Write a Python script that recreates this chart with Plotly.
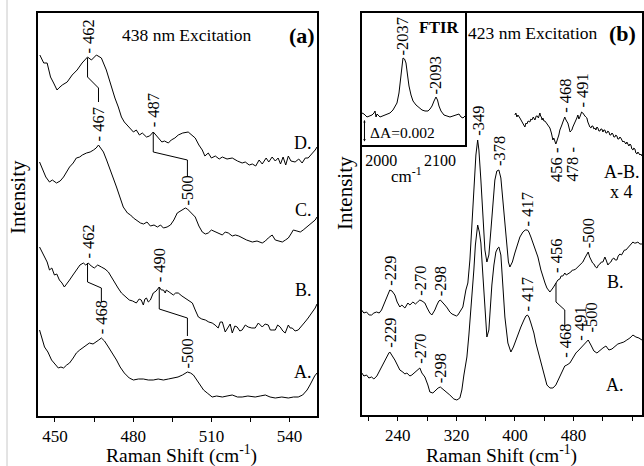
import plotly.graph_objects as go

FONT = "Liberation Serif, Times New Roman, DejaVu Serif, serif"

# ---------------- Panel (a): 438 nm excitation (Raman shift cm-1, intensity a.u.) ----------------
a_D = [(444.2,365),(445.7,357),(447.0,357),(448.3,343),(449.5,337),(450.8,330),(451.5,332),(452.8,335),
       (454.7,338),(456.6,345),(458.5,350),(460.4,357),(462.5,363),(464.0,360),(465.9,365),(467.8,362),
       (469.7,350),(471.6,333),(473.0,322),(474.3,313),(475.5,303),(476.6,298),(478.5,292),(480.1,288),
       (481.2,290),(482.4,285),(483.5,287),(485.1,283),(486.3,284),(487.7,288),(488.7,285),(489.7,282),
       (491.0,278),(492.0,279),(493.5,277),(494.6,280),(496.0,282),(497.3,285),(499.0,287),(501.1,288),
       (502.5,285),(503.8,282),(505.2,275),(506.5,270),(507.5,264),(508.8,267),(510.0,262),(511.5,264),
       (513.0,261),(514.2,263),(516.0,261),(518.0,262),(520.0,259),(521.8,257),(523.0,258),(524.5,255),
       (525.7,256),(527.0,254),(528.3,260),(529.5,256),(531.0,262),(532.0,258),(533.3,263),(534.5,259),
       (535.6,262),(536.5,256),(537.5,263),(538.5,255),(539.5,264),(540.5,259),(542.1,258),(543.5,261),
       (544.8,257),(546.0,262),(547.1,262),(548.5,266),(549.8,270),(550.5,273)]
a_C = [(444.1,258),(445.5,250),(446.5,243),(447.9,238),(449.0,240),(450.6,237),(452.0,239),(453.3,243),
       (454.5,248),(455.6,253),(457.0,257),(458.2,262),(459.5,263),(460.5,265),(462.1,267),(463.5,268),
       (464.8,270),(465.8,272),(466.7,275),(467.6,272),(468.6,268),(469.8,260),(470.9,253),(472.2,243),
       (473.6,233),(474.9,222),(476.2,213),(477.8,207),(479.0,205),(480.1,202),(481.5,199),(482.8,197),
       (484.0,196),(485.3,198),(486.6,194),(488.0,195),(489.3,193),(490.5,195),(491.6,192),(493.0,193),
       (494.3,195),(495.6,200),(496.9,207),(498.0,209),(498.9,210),(500.0,212),(500.8,211),(501.9,208),
       (503.0,206),(503.8,203),(505.2,194),(506.5,188),(507.7,186),(508.8,187),(510.0,190),(511.5,188),
       (512.8,187),(514.2,185),(515.3,188),(516.5,187),(518.0,184),(519.2,185),(520.5,184),(521.8,182),
       (523.5,180),(525.7,178),(527.5,179),(529.5,177),(530.7,179),(531.8,182),(533.3,185),(534.5,180),
       (535.8,179),(537.2,178),(538.4,180),(539.5,182),(540.5,186),(541.4,190),(542.8,189),(544.1,188),
       (545.2,190),(546.7,193),(548.2,196),(549.8,200),(550.5,203)]
a_B = [(444.1,173),(445.0,168),(446.0,162),(447.0,158),(447.9,150),(448.8,152),(449.8,145),(450.7,146),
       (451.7,140),(452.7,137),(453.6,133),(454.6,136),(455.6,140),(456.9,145),(458.2,150),(459.6,155),
       (460.9,157),(461.8,155),(462.8,157),(463.9,154),(465.1,152),(466.4,155),(467.8,153),(469.2,151),
       (470.5,148),(471.6,143),(472.8,137),(474.2,132),(475.5,127),(477.0,123),(478.5,120),(479.8,119),
       (481.2,117),(482.3,121),(483.1,120),(483.9,115),(484.5,121),(485.1,122),(485.8,118),(486.6,120),
       (487.7,127),(488.8,129),(490.0,133),(490.8,130),(491.6,130),(492.3,127),(492.7,130),(493.8,128),
       (495.4,125),(496.3,127),(497.3,127),(498.7,124),(500.0,122),(501.3,120),(502.7,117),(503.8,110),
       (505.0,103),(506.3,101),(507.7,100),(509.0,98),(510.3,97),(511.4,95),(512.6,92),(513.4,98),
       (514.2,98),(515.3,88),(516.5,93),(517.2,96),(518.0,87),(519.0,94),(519.9,93),(520.9,89),
       (521.8,90),(523.0,95),(524.1,93),(525.5,92),(526.8,92),(528.0,97),(529.5,93),(530.6,96),
       (531.8,95),(532.6,90),(533.3,90),(534.5,90),(535.4,95),(536.4,93),(537.4,89),(538.3,87),
       (539.5,95),(540.2,92),(541.0,92),(542.1,89),(543.3,90),(544.3,93),(545.2,95),(546.2,99),
       (547.1,102),(548.5,107),(549.8,112),(550.5,116)]
a_A = [(444.1,90),(445.0,82),(446.0,73),(447.3,68),(448.7,60),(450.0,56),(451.3,52),(452.3,53),
       (453.3,52),(454.5,55),(455.6,57),(457.0,62),(458.2,67),(459.5,70),(460.9,73),(462.0,75),
       (463.2,77),(464.6,76),(465.9,78),(466.8,80),(467.8,82),(469.0,79),(470.5,73),(472.0,67),
       (473.6,60),(475.0,53),(476.6,47),(478.5,42),(480.1,40),(482.0,41),(483.9,41),(485.8,40),
       (487.7,40),(489.6,41),(491.6,40),(493.5,41),(495.4,42),(497.2,43),(498.9,45),(500.0,47),
       (500.8,48),(502.0,47),(503.1,45),(504.4,40),(505.7,35),(507.0,30),(508.4,27),(510.3,23),
       (512.0,24),(514.2,23),(516.0,24),(518.0,25),(520.0,23),(521.8,23),(524.0,24),(526.8,23),
       (528.7,24),(530.7,25),(532.5,23),(534.5,22),(537.0,23),(539.5,22),(541.5,23),(543.3,23),
       (545.0,25),(546.7,30),(547.8,35),(548.7,40),(549.6,44),(550.5,47)]

# ---------------- Panel (b): 423 nm excitation ----------------
b_B = [(190.4,110),(193.6,107),(197.2,108),(200.8,105),(204.1,105),(207.2,107),(210.9,108),(214.5,107),
       (217.7,110),(221.0,116),(225.0,122),(228.0,128),(229.0,130),(232.0,129),(235.9,125),(239.0,118),
       (242.7,113),(245.4,115),(249.6,112),(253.7,117),(256.4,115),(260.5,118),(264.0,116),(267.0,118),
       (270.0,120),(273.0,119),(276.9,117),(280.0,112),(283.7,107),(286.4,105),(290.5,110),(293.3,115),
       (296.0,119),(298.0,120),(301.0,118),(304.2,115),(307.5,112),(311.0,108),(314.0,106),(316.5,105),
       (320.0,104),(322.0,105),(326.0,109),(328.8,113),(332.9,130),(335.6,137),(338.4,160),(341.1,195),
       (343.8,235),(346.6,265),(349.0,280),(350.7,270),(353.4,240),(356.1,200),(358.9,170),(361.6,158),
       (364.3,165),(367.1,190),(369.8,220),(372.5,240),(375.2,249),(378.0,250),(380.7,242),(383.4,220),
       (386.2,195),(388.9,170),(391.0,158),(393.0,153),(396.4,158),(399.8,167),(404.0,177),(406.7,183),
       (410.8,188),(414.0,190),(417.0,190),(419.0,188),(421.7,183),(425.8,175),(428.5,168),(431.3,163),
       (435.4,150),(438.1,143),(441.0,137),(443.6,132),(447.7,128),(451.8,132),(454.5,135),(456.0,137),
       (458.6,140),(461.3,141),(463.0,144),(465.4,144),(468.1,147),(470.0,145),(472.1,146),(474.5,148),
       (476.3,148),(478.5,150),(480.4,150),(483.0,151),(485.9,153),(488.0,155),(490.0,156),(492.7,158),
       (495.4,162),(498.2,166),(500.0,168),(502.0,163),(503.7,160),(506.0,157),(507.8,156),(510.0,153),
       (511.9,152),(514.0,155),(516.0,156),(518.0,158),(520.1,158),(522.8,163),(524.5,160),(526.9,155),
       (529.0,157),(531.0,158),(533.0,161),(535.1,162),(537.0,160),(539.2,160),(541.0,164),(543.3,166),
       (545.5,165),(547.4,168),(549.5,170),(551.5,170),(554.2,172),(556.0,174),(558.3,176),(561.1,178),
       (563.0,177),(565.2,177),(567.9,178),(570.5,176),(573.4,176)]
b_A = [(190.8,47),(193.6,44),(197.2,45),(200.4,42),(204.1,43),(207.2,41),(211.3,44),(215.4,50),
       (219.5,55),(222.2,60),(225.0,64),(227.7,67),(229.0,68),(232.0,65),(235.9,60),(240.0,54),
       (242.7,50),(246.8,48),(249.5,46),(252.3,47),(256.4,44),(259.1,45),(263.2,48),(267.3,51),
       (270.0,52),(272.8,47),(276.9,43),(281.0,35),(283.7,28),(287.8,27),(291.9,30),(295.0,32),
       (298.0,33),(301.5,31),(305.6,28),(311.0,25),(316.5,21),(320.6,20),(324.7,22),(327.4,30),
       (330.2,45),(334.3,63),(337.0,85),(341.1,120),(343.8,150),(345.9,175),(347.5,190),(349.0,195),
       (351.3,188),(353.4,177),(356.1,145),(358.9,110),(361.6,83),(364.3,90),(365.7,110),(368.4,135),
       (371.2,155),(373.9,168),(376.5,172),(378.0,173),(380.7,165),(382.8,140),(386.2,103),(390.3,77),
       (394.4,68),(397.8,73),(401.2,80),(405.3,87),(408.0,93),(412.2,100),(414.9,104),(417.0,105),
       (419.0,103),(421.7,97),(425.8,87),(428.5,77),(432.6,65),(435.4,57),(439.5,46),(443.6,35),
       (447.7,32),(451.8,32),(455.8,35),(459.9,42),(464.0,48),(468.0,54),(470.9,55),(475.0,57),
       (479.1,62),(483.2,67),(487.3,70),(491.0,73),(495.5,77),(500.0,80),(503.7,75),(507.8,69),
       (511.9,67),(516.0,70),(520.1,72),(524.2,74),(528.3,70),(532.4,71),(536.4,74),(540.5,76),
       (544.6,77),(548.7,78),(552.8,80),(557.0,82),(561.1,85),(565.2,83),(569.3,82),(573.4,80)]
b_AminusB = [(399.8,305),(401.2,307),(402.6,303),(404.0,305),(406.7,302),(408.0,300),(409.4,299),(411.0,296),
       (413.5,293),(415.0,297),(416.2,296),(418.0,299),(420.3,298),(421.7,301),(423.1,300),(425.0,303),
       (427.2,300),(429.0,304),(430.6,304),(432.0,302),(434.0,307),(435.0,304),(436.0,303),(437.0,300),
       (438.1,302),(439.5,299),(440.8,299),(442.9,297),(445.0,295),(446.5,294),(447.7,292),(449.7,287),
       (450.8,283),(451.8,280),(453.0,282),(454.5,277),(455.8,276),(456.8,278),(457.9,280),(459.0,283),
       (459.9,285),(461.3,290),(462.7,292),(464.0,295),(465.4,298),(466.5,301),(468.0,303),(469.0,301),
       (470.3,298),(471.2,298),(472.2,297),(473.2,293),(474.3,292),(475.3,288),(476.3,289),(477.7,290),
       (479.0,293),(480.4,295),(481.8,298),(483.2,300),(484.5,302),(485.9,305),(487.3,301),(488.6,303),
       (489.8,306),(491.0,308),(492.7,307),(494.0,305),(495.5,304),(496.8,303),(498.2,302),(499.5,298),
       (500.9,295),(502.3,293),(503.7,292),(505.0,294),(506.4,294),(507.8,291),(509.2,292),(510.5,290),
       (511.9,293),(513.2,292),(514.6,289),(516.0,289),(517.3,291),(518.7,291),(520.1,288),(521.4,290),
       (522.8,290),(524.2,287),(525.5,287),(526.9,289),(528.3,288),(529.6,285),(531.0,285),(532.4,287),
       (533.7,286),(535.1,283),(536.4,283),(537.8,285),(539.2,284),(540.5,281),(541.9,281),(543.3,283),
       (544.6,282),(546.0,279),(547.4,278),(548.7,279),(550.1,277),(551.5,276),(552.8,278),(554.2,275),
       (555.6,274),(557.0,276),(558.3,275),(559.7,271),(561.1,270),(562.4,272),(563.8,271),(565.2,267),
       (566.6,266),(567.9,268),(569.3,267),(570.7,265),(572.0,266),(573.4,264)]

# ---------------- Inset: FTIR (wavenumber cm-1, absorbance a.u.) ----------------
ftir = [(1967.4,307),(1970.8,306),(1975.9,303),(1979.3,304),(1984.4,305),(1987.8,307),(1989.5,309),
        (1991.2,303),(1992.9,306),(1998.0,303),(2003.1,304),(2006.5,305),(2011.5,306),(2014.9,307),
        (2020.0,310),(2023.4,313),(2026.8,317),(2030.2,327),(2032.8,340),(2035.3,354),(2037.0,362),
        (2039.6,361),(2042.1,357),(2044.7,345),(2047.2,334),(2050.6,325),(2054.0,319),(2059.1,315),
        (2064.2,312),(2069.3,310),(2074.4,309),(2079.5,309),(2082.9,311),(2086.3,314),(2089.7,319),
        (2093.0,323),(2095.6,320),(2098.1,314),(2101.5,309),(2106.6,305),(2111.7,304),(2116.8,303),
        (2121.9,304),(2127.0,305),(2132.1,306),(2135.5,303),(2138.9,302),(2142.3,304)]

# correlation (connector) lines between bands, in data units
a_links = [[(462.5,362),(462.5,343),(466.7,332),(466.7,318)],
           [(487.7,288),(487.7,268),(500.8,260),(500.8,243)],
           [(462.5,157),(462.5,138),(467.8,132),(467.8,118)],
           [(490.0,133),(490.0,111),(500.8,102),(500.8,84)]]
b_links = [[(456.0,137),(456.0,118),(468.0,110),(468.0,93)]]

# peak labels: (text, x, y, anchor)
a_peaks = [("- 462",462.5,364,"bottom"),("- 467",466.7,277,"bottom"),("- 487",487.7,291,"bottom"),
           ("-500",500.8,213,"bottom"),("- 462",462.5,159,"bottom"),("- 468",467.8,84,"bottom"),
           ("- 490",490.0,136,"bottom"),("-500",500.8,50,"bottom")]
b_peaks = [("-229",229,132,"bottom"),("-270",270,122,"bottom"),("-298",298,122,"bottom"),
           ("-349",349,282,"bottom"),("-378",378,252,"bottom"),("- 417",417,192,"bottom"),
           ("- 456",456,145,"bottom"),("-500",500,170,"bottom"),
           ("-229",229,70,"bottom"),("-270",270,54,"bottom"),("-298",298,35,"bottom"),
           ("- 417",417,107,"bottom"),("- 468",468,60,"bottom"),("- 491",488.3,77,"bottom"),
           ("-500",504.5,86,"bottom"),
           ("- 468",468,305,"bottom"),("- 491",491,310,"bottom"),("456 -",456,274,"top"),
           ("478 -",478.5,275,"top")]
ftir_peaks = [("-2037",2037,363,"bottom"),("-2093",2093,324,"bottom")]

fig = go.Figure()

def add_line(pts, xa, ya):
    fig.add_trace(go.Scatter(x=[p[0] for p in pts], y=[p[1] for p in pts], mode="lines",
                             line=dict(color="black", width=1), xaxis=xa, yaxis=ya,
                             hoverinfo="skip", showlegend=False))

for s in (a_D, a_C, a_B, a_A):
    add_line(s, "x", "y")
for s in a_links:
    add_line(s, "x", "y")
for s in (b_B, b_A, b_AminusB):
    add_line(s, "x2", "y2")
for s in b_links:
    add_line(s, "x2", "y2")
add_line(ftir, "x3", "y3")

ann = []
def peak_labels(lst, xr, yr):
    for t, x, y, anc in lst:
        ann.append(dict(text=t, x=x, y=y, xref=xr, yref=yr, showarrow=False, textangle=-90,
                        xanchor="center", yanchor=anc, font=dict(family=FONT, size=16.5, color="black")))
peak_labels(a_peaks, "x", "y")
peak_labels(b_peaks, "x2", "y2")
peak_labels(ftir_peaks, "x3", "y3")

def txt(t, x, y, xr, yr, size, xanchor="center", yanchor="middle", angle=0):
    ann.append(dict(text=t, x=x, y=y, xref=xr, yref=yr, showarrow=False, textangle=angle,
                    xanchor=xanchor, yanchor=yanchor, font=dict(family=FONT, size=size, color="black")))

txt("438 nm Excitation", 500.8, 385, "x", "y", 17.5)
txt("<b>(a)</b>", 544.8, 385, "x", "y", 22)
for lab, yv in (("D.", 277), ("C.", 210), ("B.", 130), ("A.", 48)):
    txt(lab, 545.3, yv, "x", "y", 18)
txt("423 nm Excitation", 425, 387, "x2", "y2", 17.5)
txt("<b>(b)</b>", 547.4, 387, "x2", "y2", 22)
txt("A-B.", 546.6, 248, "x2", "y2", 18)
txt("x 4", 546, 228, "x2", "y2", 18)
txt("B.", 537, 138, "x2", "y2", 18)
txt("A.", 537, 35, "x2", "y2", 18)
txt("cm<sup>-1</sup>", 252, 245, "x2", "y2", 17)
txt("<b>FTIR</b>", 2099.8, 393, "x3", "y3", 16.5)
txt("ΔA=0.002", 1977, 288, "x3", "y3", 15.5, xanchor="left")
ann.append(dict(text="", x=1971.6, y=300, ax=1971.6, ay=277, xref="x3", yref="y3",
                axref="x3", ayref="y3", showarrow=True, arrowhead=2, arrowside="end+start",
                arrowsize=0.5, arrowwidth=1, arrowcolor="black"))
txt("Raman Shift (cm<sup>-1</sup>)", 181/644, 12/466, "paper", "paper", 19.5)
txt("Raman Shift (cm<sup>-1</sup>)", 501/644, 12/466, "paper", "paper", 19.5)
txt("Intensity", 18/644, 1-197/466, "paper", "paper", 21, angle=-90)
txt("Intensity", 345/644, 1-193/466, "paper", "paper", 21, angle=-90)

frame = dict(showline=True, mirror=True, linecolor="black", linewidth=1.5, showgrid=False,
             zeroline=False)
tickfont = dict(family=FONT, size=17, color="black")
fig.update_layout(
    width=644, height=466, margin=dict(l=0, r=0, t=0, b=0),
    paper_bgcolor="white", plot_bgcolor="white",
    font=dict(family=FONT, color="black"),
    xaxis=dict(domain=[38/644, 317/644], range=[443.5, 550.5], anchor="y", tickmode="linear",
               tick0=450, dtick=30, ticks="outside", ticklen=4, tickcolor="black", tickfont=tickfont,
               minor=dict(tick0=450, dtick=15, ticks="outside", ticklen=4, tickcolor="black"), **frame),
    yaxis=dict(domain=[1-416/466, 1-13/466], range=[4, 407], anchor="x", showticklabels=False,
               ticks="", **frame),
    xaxis2=dict(domain=[362/644, 642/644], range=[191, 573.5], anchor="y2", tickmode="linear",
                tick0=240, dtick=80, ticks="outside", ticklen=4, tickcolor="black", tickfont=tickfont,
                minor=dict(tick0=200, dtick=40, ticks="outside", ticklen=4, tickcolor="black"), **frame),
    yaxis2=dict(domain=[1-415/466, 1-13/466], range=[5, 407], anchor="x2", showticklabels=False,
                ticks="", **frame),
    xaxis3=dict(domain=[362/644, 465/644], range=[1967.4, 2142.3], anchor="y3", tickmode="array",
                tickvals=[2000, 2100], ticks="", tickfont=dict(family=FONT, size=16, color="black"),
                **frame),
    yaxis3=dict(domain=[1-145/466, 1-13/466], range=[275, 407], anchor="x3", showticklabels=False,
                ticks="", **frame),
    annotations=ann,
    shapes=[dict(type="line", xref="paper", yref="paper", x0=7/644, x1=7/644, y0=0, y1=1,
                 line=dict(color="#c8c8c8", width=1))],
)

fig.write_html("out.html", config={"displayModeBar": False},
               post_script="document.body.style.margin='0px';document.body.style.padding='0px';")
